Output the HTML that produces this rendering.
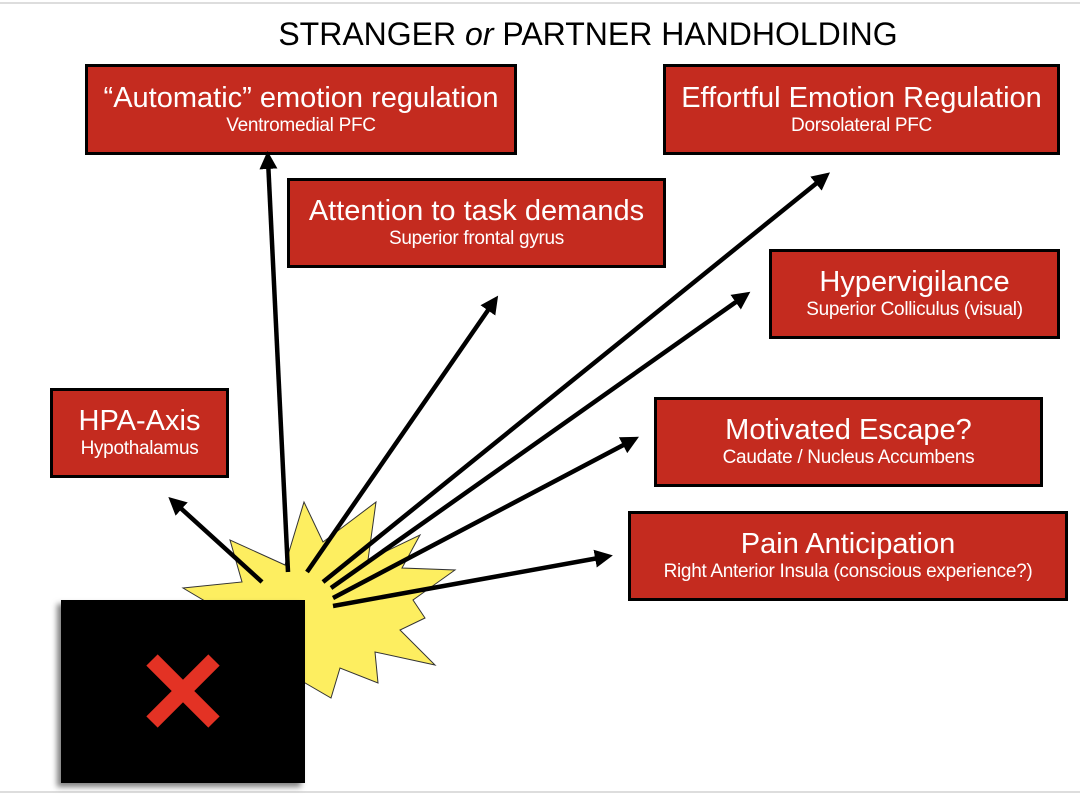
<!DOCTYPE html>
<html><head><style>
body{margin:0;width:1080px;height:795px;background:#fff;position:relative;overflow:hidden;font-family:"Liberation Sans",sans-serif}
.b{position:absolute;background:#c42b1f;border:3px solid #000;box-sizing:border-box;color:#fff;text-align:center;display:flex;flex-direction:column;justify-content:center}
.t{font-size:29px;line-height:32px}.s{font-size:19px;line-height:24px;letter-spacing:-0.3px}
</style></head><body>
<div style="position:absolute;left:0;top:2px;width:1080px;height:2px;background:#ddd"></div>
<div style="position:absolute;left:0;top:791px;width:1080px;height:2px;background:#ddd"></div>
<div style="position:absolute;left:0;top:16px;width:1176px;text-align:center;font-size:32px;color:#000">STRANGER <i>or</i> PARTNER HANDHOLDING</div>
<div class="b" style="left:85px;top:64px;width:432px;height:91px"><div class="t">“Automatic” emotion regulation</div><div class="s">Ventromedial PFC</div></div>
<div class="b" style="left:663px;top:64px;width:397px;height:91px"><div class="t">Effortful Emotion Regulation</div><div class="s">Dorsolateral PFC</div></div>
<div class="b" style="left:287px;top:178px;width:379px;height:90px"><div class="t">Attention to task demands</div><div class="s">Superior frontal gyrus</div></div>
<div class="b" style="left:769px;top:249px;width:291px;height:90px"><div class="t">Hypervigilance</div><div class="s">Superior Colliculus (visual)</div></div>
<div class="b" style="left:50px;top:388px;width:179px;height:90px"><div class="t">HPA-Axis</div><div class="s">Hypothalamus</div></div>
<div class="b" style="left:654px;top:397px;width:389px;height:90px"><div class="t">Motivated Escape?</div><div class="s">Caudate / Nucleus Accumbens</div></div>
<div class="b" style="left:628px;top:511px;width:440px;height:90px"><div class="t">Pain Anticipation</div><div class="s">Right Anterior Insula (conscious experience?)</div></div>
<svg width="1080" height="795" style="position:absolute;left:0;top:0">
<defs><marker id="a" markerWidth="4" markerHeight="4" refX="2" refY="2" orient="auto" markerUnits="strokeWidth"><path d="M0,0 L4,2 L0,4 Z" fill="#000"/></marker>
<filter id="sh"><feDropShadow dx="-4" dy="4" stdDeviation="3" flood-color="#000" flood-opacity="0.5"/></filter></defs>
<polygon points="183,588 242,582 230,540 285,565 304,502 323,542 376,502 368,560 420,535 402,568 455,570 413,600 425,618 400,630 435,665 375,652 378,683 340,668 331,698 300,680 270,690 262,650 210,640 220,610" fill="#fdee60" stroke="#333" stroke-width="1"/>
<rect x="61" y="600" width="244" height="183" fill="#000" filter="url(#sh)"/>
<path d="M152,660 L214,722 M214,660 L152,722" stroke="#e33224" stroke-width="16"/>
<g stroke="#000" stroke-width="4.5" fill="none" marker-end="url(#a)">
<line x1="262" y1="582" x2="175" y2="503"/>
<line x1="288" y1="572" x2="268" y2="160"/>
<line x1="307" y1="572" x2="493" y2="303"/>
<line x1="323" y1="582" x2="823" y2="178"/>
<line x1="331" y1="588" x2="743" y2="297"/>
<line x1="333" y1="598" x2="631" y2="441"/>
<line x1="333" y1="606" x2="604" y2="557"/>
</g>
</svg>
</body></html>
